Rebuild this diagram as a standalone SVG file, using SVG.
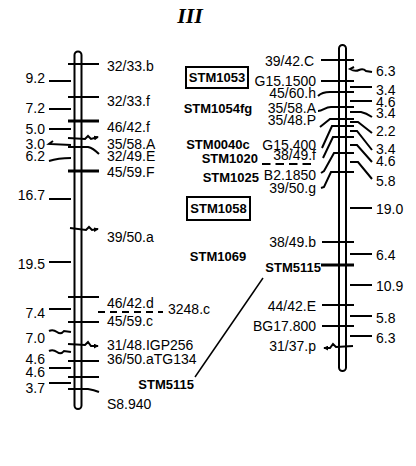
<svg xmlns="http://www.w3.org/2000/svg" width="416" height="466" viewBox="0 0 416 466">
<defs>
<style>
.t{font-family:"Liberation Sans",Arial,sans-serif;font-size:14px;fill:#000}
.b{font-family:"Liberation Sans",Arial,sans-serif;font-size:13px;font-weight:bold;fill:#000}
.e{text-anchor:end}
.m{text-anchor:middle}
.ln{stroke:#000;stroke-width:2;fill:none}
.th{stroke:#000;stroke-width:3;fill:none}
.chr{stroke:#000;stroke-width:2;fill:#fff}
</style>
<marker id="ah" viewBox="0 0 6 6" refX="5" refY="3" markerUnits="userSpaceOnUse" markerWidth="5" markerHeight="5" orient="auto"><path d="M0,0 L6,3 L0,6 Z" fill="#000"/></marker>
</defs>
<rect width="416" height="466" fill="#fff"/>
<text x="190" y="23" class="m" style="font-family:'Liberation Serif','Times New Roman',serif;font-size:22px;font-weight:bold;font-style:italic">III</text>

<g id="chr-left">
<path class="chr" d="M74.5,405.5 L74.5,55 A3.5,3.5 0 0 1 81.5,55 L81.5,405.5 A3.5,3.5 0 0 1 74.5,405.5 Z"/>
<g id="left-markers">
<line class="ln" x1="68" y1="64" x2="99" y2="64"/>
<line class="ln" x1="68" y1="97" x2="99" y2="97"/>
<line class="th" x1="68" y1="121" x2="99" y2="121"/>
<path class="ln" d="M68,138 L85,139 L88,136 L91,139 L98,137" marker-end="url(#ah)"/>
<path class="ln" d="M68,147 L88,147 Q93,148 99,154"/>
<line class="th" x1="68" y1="171" x2="99" y2="171"/>
<path class="ln" d="M70,228 L86,230 L89,227 L92,230 L98,229" marker-end="url(#ah)"/>
<line class="ln" x1="68" y1="297" x2="99" y2="297"/>
<line class="ln" x1="68" y1="322" x2="99" y2="322"/>
<path class="ln" d="M68,344 L85,345 L88,342 L91,346 L98,346" marker-end="url(#ah)"/>
<line class="ln" x1="68" y1="361" x2="99" y2="361"/>
<line class="ln" x1="68" y1="377" x2="99" y2="377"/>
<path class="ln" d="M68,389 L88,389 Q94,390 99,392"/>
<text class="t" x="107" y="71">32/33.b</text>
<text class="t" x="107" y="106">32/33.f</text>
<text class="t" x="107" y="132">46/42.f</text>
<text class="t" x="107" y="149">35/58.A</text>
<text class="t" x="107" y="161">32/49.E</text>
<text class="t" x="107" y="177">45/59.F</text>
<text class="t" x="107" y="242">39/50.a</text>
<text class="t" x="107" y="308">46/42.d</text>
<text class="t" x="107" y="326">45/59.c</text>
<text class="t" x="168" y="314">3248.c</text>
<text class="t" x="107" y="350">31/48.IGP256</text>
<text class="t" x="107" y="364">36/50.aTG134</text>
<text class="t" x="107" y="409">S8.940</text>
</g>
<g id="left-distances">
<line class="ln" x1="49" y1="81" x2="71" y2="81"/>
<line class="ln" x1="49" y1="109" x2="71" y2="109"/>
<line class="ln" x1="49" y1="129" x2="71" y2="129"/>
<path class="ln" d="M53,141 L49,144 L71,145"/>
<path class="ln" d="M49,161 Q58,158 71,158"/>
<line class="ln" x1="49" y1="199" x2="71" y2="199"/>
<line class="ln" x1="49" y1="262" x2="71" y2="262"/>
<line class="ln" x1="49" y1="309" x2="71" y2="309"/>
<path class="ln" d="M49,331 Q53,329 57,332 Q61,335 64,331 L71,332"/>
<path class="ln" d="M49,351 Q53,349 57,352 Q61,355 64,351 L71,352"/>
<line class="ln" x1="49" y1="368" x2="71" y2="368"/>
<line class="ln" x1="49" y1="383" x2="71" y2="383"/>
<text class="t e" x="45" y="83">9.2</text>
<text class="t e" x="45" y="113">7.2</text>
<text class="t e" x="45" y="134">5.0</text>
<text class="t e" x="45" y="149">3.0</text>
<text class="t e" x="45" y="161">6.2</text>
<text class="t e" x="45" y="200">16.7</text>
<text class="t e" x="45" y="269">19.5</text>
<text class="t e" x="45" y="318">7.4</text>
<text class="t e" x="45" y="343">7.0</text>
<text class="t e" x="45" y="364">4.6</text>
<text class="t e" x="45" y="377">4.6</text>
<text class="t e" x="45" y="393">3.7</text>
</g>
</g>

<g id="chr-right">
<path class="chr" d="M339,367.5 L339,48.5 A3.5,3.5 0 0 1 346,48.5 L346,367.5 A3.5,3.5 0 0 1 339,367.5 Z"/>
<g id="right-markers">
<line class="ln" x1="321" y1="60" x2="354" y2="60"/>
<line class="ln" x1="321" y1="81" x2="354" y2="81"/>
<path class="ln" d="M318,96 Q322,92 330,92 L354,92"/>
<path class="ln" d="M318,111 C323,111 325,107 331,107 L354,107"/>
<path class="ln" d="M320,127 L330,119 L354,119"/>
<path class="ln" d="M322,148 L332,126 L354,126"/>
<path class="ln" d="M323,158 L333,137 L354,137"/>
<path class="ln" d="M321,173 L324,171 L334,153 L354,153"/>
<path class="ln" d="M321,188 L324,187 L331,172 L354,172"/>
<line class="ln" x1="322" y1="242" x2="354" y2="242"/>
<line class="th" x1="321" y1="265" x2="354" y2="265"/>
<line class="ln" x1="322" y1="305" x2="354" y2="305"/>
<line class="ln" x1="322" y1="326" x2="354" y2="326"/>
<path class="ln" d="M353,346 L336,347 L333,344 L330,348 L324,348" marker-end="url(#ah)"/>
<text class="t e" x="314" y="66">39/42.C</text>
<text class="t e" x="316" y="86">G15.1500</text>
<text class="t e" x="316" y="98">45/60.h</text>
<text class="t e" x="316" y="113">35/58.A</text>
<text class="t e" x="316" y="125">35/48.P</text>
<text class="t e" x="316" y="150">G15.400</text>
<text class="t e" x="316" y="160">38/49.f</text>
<text class="t e" x="316" y="180">B2.1850</text>
<text class="t e" x="316" y="193">39/50.g</text>
<text class="t e" x="316" y="247">38/49.b</text>
<text class="t e" x="316" y="311">44/42.E</text>
<text class="t e" x="316" y="331">BG17.800</text>
<text class="t e" x="316" y="351">31/37.p</text>
</g>
<g id="right-distances">
<path class="ln" d="M354,67 L350,69 Q355,72 359,70 Q363,68 366,71 L372,72"/>
<line class="ln" x1="350" y1="87" x2="372" y2="87"/>
<line class="ln" x1="350" y1="101" x2="372" y2="101"/>
<path class="ln" d="M350,112 L361,112 Q366,113 372,117"/>
<path class="ln" d="M350,122 L358,122 L372,133"/>
<path class="ln" d="M350,131 L357,131 L372,150"/>
<path class="ln" d="M350,145 L357,145 L372,162"/>
<path class="ln" d="M350,162 L358,162 L372,179"/>
<line class="ln" x1="350" y1="208" x2="372" y2="208"/>
<line class="ln" x1="350" y1="254" x2="372" y2="254"/>
<line class="ln" x1="350" y1="285" x2="372" y2="285"/>
<line class="ln" x1="350" y1="316" x2="372" y2="316"/>
<line class="ln" x1="350" y1="336" x2="372" y2="336"/>
<text class="t" x="376" y="76">6.3</text>
<text class="t" x="376" y="95">3.4</text>
<text class="t" x="376" y="107">4.6</text>
<text class="t" x="376" y="118">3.4</text>
<text class="t" x="376" y="136">2.2</text>
<text class="t" x="376" y="154">3.4</text>
<text class="t" x="376" y="166">4.6</text>
<text class="t" x="376" y="186">5.8</text>
<text class="t" x="376" y="214">19.0</text>
<text class="t" x="376" y="260">6.4</text>
<text class="t" x="376" y="291">10.9</text>
<text class="t" x="376" y="323">5.8</text>
<text class="t" x="376" y="343">6.3</text>
</g>
</g>

<g id="STM1053"><rect x="186" y="67" width="62" height="21" fill="none" stroke="#000" stroke-width="2"/><text class="b m" x="217" y="82">STM1053</text></g>
<g id="STM1054fg"><text class="b m" x="218" y="113">STM1054fg</text></g>
<g id="STM0040c"><text class="b m" x="218" y="149">STM0040c</text></g>
<g id="STM1020"><text class="b e" x="258" y="163">STM1020</text></g>
<g id="STM1025"><text class="b e" x="259" y="182">STM1025</text></g>
<g id="STM1058"><rect x="187" y="197" width="63" height="23" fill="none" stroke="#000" stroke-width="2"/><text class="b m" x="218.5" y="213">STM1058</text></g>
<g id="STM1069"><text class="b m" x="218" y="261">STM1069</text></g>
<g id="STM5115-right"><text class="b e" x="321" y="272">STM5115</text></g>
<g id="STM5115-left"><text class="b e" x="194" y="389">STM5115</text></g>

<g id="connectors">
<line x1="262" y1="164" x2="312" y2="164" stroke="#000" stroke-width="2" stroke-dasharray="8.5 5"/>
<line x1="98" y1="312" x2="163" y2="312" stroke="#000" stroke-width="2" stroke-dasharray="7 5"/>
<line x1="195" y1="377" x2="263" y2="278" stroke="#000" stroke-width="1.5"/>
</g>
</svg>
